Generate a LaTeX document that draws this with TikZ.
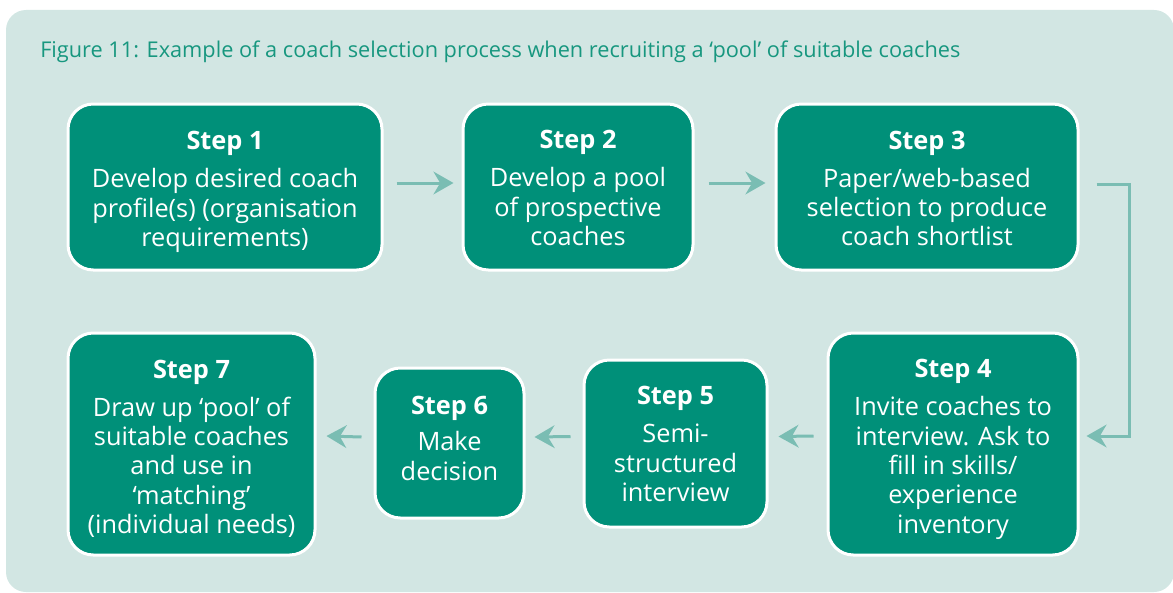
\documentclass[tikz,border=0pt]{standalone}
\usepackage{fontspec}
\setmainfont{Open Sans}
\usetikzlibrary{arrows.meta,calc}
\definecolor{panelbg}{HTML}{D2E6E3}
\definecolor{boxfill}{HTML}{009079}
\definecolor{arrowc}{HTML}{7ABDB3}
\definecolor{titlec}{HTML}{17977F}
\begin{document}
\begin{tikzpicture}[x=0.75pt,y=-0.75pt,
  stepbox/.style={draw=white, line width=2.25pt, fill=boxfill, rounded corners=19pt, inner sep=0pt},
  steptext/.style={text=white, align=center, font=\fontsize{19}{22}\selectfont, inner sep=0pt},
  flow/.style={draw=arrowc, line width=2.25pt, -{Stealth[length=15pt,width=17pt,inset=5pt]}}]
\useasboundingbox (0,0) rectangle (1173,592);
\fill[panelbg, rounded corners=15pt] (6,10) rectangle (1174,592);
\node[anchor=base west, text=titlec, inner sep=0pt, font=\fontsize{16.3}{19}\selectfont] (title) at (40,58)
  {Figure 11: Example of a coach selection process when recruiting a ‘pool’ of suitable coaches};
% boxes
\node[stepbox, minimum width=235.5pt, minimum height=124.5pt] (s1) at (225,187) {};
\node[stepbox, minimum width=172.5pt, minimum height=124.5pt] (s2) at (578,187) {};
\node[stepbox, minimum width=226.5pt, minimum height=124.5pt] (s3) at (927,187) {};
\node[stepbox, minimum width=187.5pt, minimum height=166.5pt] (s4) at (953,444) {};
\node[stepbox, minimum width=137.25pt, minimum height=125.25pt] (s5) at (675.5,443.5) {};
\node[stepbox, minimum width=111.75pt, minimum height=112.5pt] (s6) at (449.5,443) {};
\node[stepbox, minimum width=185.25pt, minimum height=166.5pt] (s7) at (191.5,444) {};
% texts
\node[steptext] (t1) at ($(s1)+(0,5)$)
  {\textbf{Step 1}\\[6.5pt]Develop desired coach\\profile(s) (organisation\\requirements)};
\node[steptext] (t2) at ($(s2)+(0,1)$)
  {\textbf{Step 2}\\[6.5pt]Develop a pool\\of prospective\\coaches};
\node[steptext] (t3) at ($(s3)+(0,1.5)$)
  {\textbf{Step 3}\\[6.5pt]Paper/web-based\\selection to produce\\coach shortlist};
\node[steptext] (t4) at ($(s4)+(0,5.5)$)
  {\textbf{Step 4}\\[6.5pt]Invite coaches to\\interview. Ask to\\fill in skills/\\experience\\inventory};
\node[steptext] (t5) at ($(s5)+(0,0.5)$)
  {\textbf{Step 5}\\[6.5pt]Semi-\\structured\\interview};
\node[steptext] (t6) at ($(s6)+(0,-4.5)$)
  {\textbf{Step 6}\\[5pt]Make\\decision};
\node[steptext] (t7) at ($(s7)+(0,4.5)$)
  {\textbf{Step 7}\\[6.5pt]Draw up ‘pool’ of\\suitable coaches\\and use in\\‘matching’\\(individual needs)};
% connectors
\draw[flow] ($(s1.east)+(13,-4)$) -- ($(s2.west)+(-8,-4)$);
\draw[flow] ($(s2.east)+(14,-4)$) -- ($(s3.west)+(-9,-4)$);
\draw[flow] ($(s3.east)+(17,-3)$) -- ++(33,0) |- ($(s4.east)+(7,-8)$);
\draw[flow] ($(s4.west)+(-13,-8)$) -- ($(s5.east)+(10,-7)$);
\draw[flow] ($(s5.west)+(-12,-7)$) -- ($(s6.east)+(9,-6)$);
\draw[flow] ($(s6.west)+(-12,-6)$) -- ($(s7.east)+(10,-8)$);
\end{tikzpicture}
\end{document}
